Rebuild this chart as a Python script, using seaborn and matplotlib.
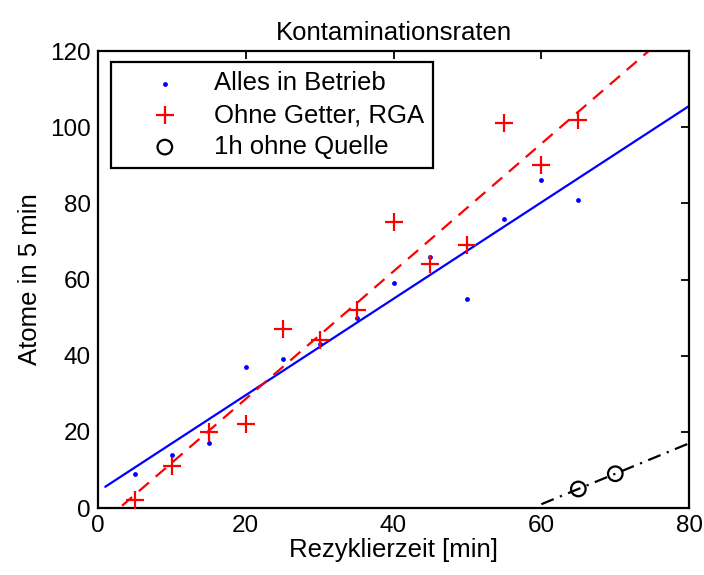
import numpy as np
import matplotlib
matplotlib.use("Agg")
import matplotlib.pyplot as plt
import seaborn as sns

# data
zeit = [5, 10, 15, 20, 25, 30, 35, 40, 45, 50, 55, 60, 65]
alles = [9, 14, 17, 37, 39, 43, 50, 59, 66, 55, 76, 86, 81]
ohne_getter = [2, 11, 20, 22, 47, 44, 52, 75, 64, 69, 101, 90, 102]
zeit_quelle = [65, 70]
ohne_quelle = [5, 9]

sns.set_theme(style="white")
plt.rcParams["font.family"] = ["Liberation Sans", "DejaVu Sans"]
plt.rcParams["xtick.direction"] = "in"
plt.rcParams["ytick.direction"] = "in"
plt.rcParams["text.color"] = "black"
plt.rcParams["axes.labelcolor"] = "black"

fig = plt.figure(figsize=(7.04, 5.75), dpi=100)
ax = fig.add_axes([0.139, 0.1165, 0.840, 0.7948])

# linear fits
fit_x = np.array([1, 80])
p_blue = np.polyfit(zeit, alles, 1)
p_red = np.polyfit(zeit, ohne_getter, 1)
p_black = np.polyfit(zeit_quelle, ohne_quelle, 1)
fit_x_black = np.array([60, 80])

sns.scatterplot(x=zeit, y=alles, ax=ax, color="blue", marker="o", s=12,
                linewidth=0, label="Alles in Betrieb", zorder=3)
sns.scatterplot(x=zeit, y=ohne_getter, ax=ax, color="red", marker="+", s=150,
                linewidth=1.6, label="Ohne Getter, RGA", zorder=3)
sns.scatterplot(x=zeit_quelle, y=ohne_quelle, ax=ax, facecolor="none", edgecolor="black",
                marker="o", s=110, linewidth=1.6, label="1h ohne Quelle", zorder=3)

ax.plot(fit_x, np.polyval(p_blue, fit_x), color="blue", lw=1.6)
ax.plot(fit_x, np.polyval(p_red, fit_x), color="red", lw=1.6, ls=(0, (6, 4)))
ax.plot(fit_x_black, np.polyval(p_black, fit_x_black), color="black", lw=1.6,
        ls=(0, (6, 3, 1, 3)))

ax.set_xlim(0, 80)
ax.set_ylim(0, 120)
ax.set_xticks([0, 20, 40, 60, 80])
ax.set_yticks([0, 20, 40, 60, 80, 100, 120])
ax.tick_params(axis="both", which="both", top=True, right=True, length=6, width=1.3,
               labelsize=17.5, pad=5, colors="black")
for sp in ax.spines.values():
    sp.set_visible(True)
    sp.set_color("black")
    sp.set_linewidth(1.6)

ax.set_title("Kontaminationsraten", fontsize=18.5, pad=8, color="black")
ax.set_xlabel("Rezyklierzeit [min]", fontsize=18.5, labelpad=1)
ax.set_ylabel("Atome in 5 min", fontsize=18.5, labelpad=6)

leg = ax.legend(loc="upper left", bbox_to_anchor=(0.022, 0.975), fontsize=18.5,
                frameon=True, fancybox=False, edgecolor="black", framealpha=1,
                handlelength=3.5, handletextpad=0.15, borderpad=0.35, labelspacing=0.3,
                borderaxespad=0)
leg.get_frame().set_linewidth(1.6)

fig.savefig("out.png", dpi=100)
